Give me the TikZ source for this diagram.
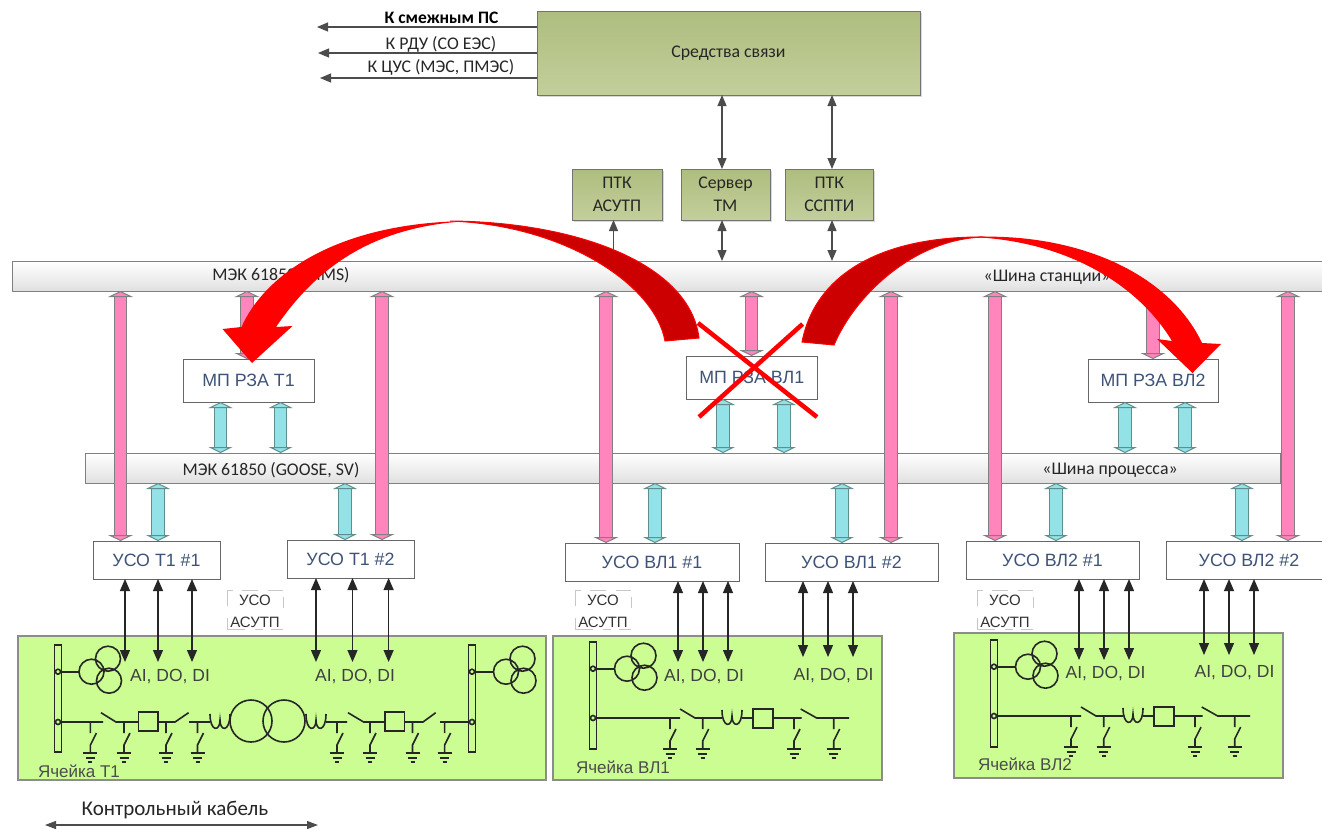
\documentclass[tikz,border=0pt]{standalone}
\usepackage{fontspec}
\setmainfont{Liberation Sans}
\newfontfamily\carl{Carlito}
\usetikzlibrary{arrows.meta,calc,shadows}
\definecolor{olivetop}{HTML}{AEBD7F}
\definecolor{olivebot}{HTML}{C3CF9B}
\definecolor{pinkc}{HTML}{FF85BC}
\definecolor{tealc}{HTML}{92E2E8}
\definecolor{tealedge}{HTML}{5F8F8C}
\definecolor{cellg}{HTML}{CBFD93}
\definecolor{bluetxt}{HTML}{3F5377}
\definecolor{darkred}{HTML}{CC0000}
\newcommand\szA{\fontsize{17.8}{20}\selectfont}
\newcommand\szB{\carl\fontsize{17.8}{20}\selectfont}
\tikzset{
  x=1pt,y=-1pt,
  olivebox/.style={draw=black!55,line width=1pt,top color=olivetop,bottom color=olivebot,inner sep=0pt,outer sep=0pt,text=black!85,align=center,font=\szB,drop shadow={shadow xshift=1.5pt,shadow yshift=-1.5pt,opacity=.3}},
  busbox/.style={draw=black!50,line width=1pt,top color=white,bottom color=black!12,inner sep=0pt,outer sep=0pt,font=\szB},
  ipbox/.style={draw=black!60,line width=1pt,fill=white,inner sep=0pt,outer sep=0pt,text=bluetxt,font=\szA},
  cellbox/.style={draw=black!45,line width=1.2pt,fill=cellg,inner sep=0pt,outer sep=0pt},
  lbl/.style={inner sep=0pt,font=\szB,text=black!85},
  siglbl/.style={inner sep=0pt,font=\fontsize{17.5}{20}\selectfont,text=black!75},
  celllbl/.style={inner sep=0pt,font=\fontsize{17}{20}\selectfont,text=black!70},
  greyarrow/.style={draw=black!70,line width=1.2pt,-{Triangle[length=11pt,width=9pt]}},
  greyboth/.style={draw=black!70,line width=1.2pt,{Triangle[length=11pt,width=9pt]}-{Triangle[length=11pt,width=9pt]}},
  blackboth/.style={draw=black!85,line width=1.2pt,{Triangle[length=12pt,width=10pt]}-{Triangle[length=12pt,width=10pt]}},
  pinkconn/.style={draw=black!50,line width=1pt,double=pinkc,double distance=11.5pt,
    {Triangle[length=6pt,width=25pt,fill=pinkc,color=black!50,line width=1pt]}-{Triangle[length=6pt,width=25pt,fill=pinkc,color=black!50,line width=1pt]}},
  tealconn/.style={draw=tealedge,line width=1pt,double=tealc,double distance=11.5pt,
    {Triangle[length=6pt,width=24pt,fill=tealc,color=tealedge,line width=1pt]}-{Triangle[length=6pt,width=24pt,fill=tealc,color=tealedge,line width=1pt]}},
  sch/.style={draw=black!85,line width=1.6pt},
  frag/.style={draw=black!22,line width=1pt},
  crossline/.style={draw=red,line width=4.5pt},
}
\newcommand\vconn[4]{\coordinate (vc) at (#2,0);\draw[#1] (vc |- #3) -- (vc |- #4);}
\newcommand\vtr[3]{\draw[sch] (#1,#3) circle[radius=12.5] (#1+16.5,#3-13) circle[radius=12.5] (#1+17.5,#3+9) circle[radius=12.5];}
\newcommand\esw[2]{\draw[sch] (#1,#2) -- ++(0,11) ++(6,0) -- ++(-6,12) -- ++(0,8);
  \draw[sch] (#1-7,#2+31) -- (#1+7,#2+31) (#1-4.5,#2+36) -- (#1+4.5,#2+36) (#1-2,#2+40) -- (#1+2,#2+40);}
\newcommand\coil[2]{\draw[sch] (#1,#2-8) .. controls (#1,#2+10) and (#1+10,#2+10) .. (#1+10,#2-2) .. controls (#1+10,#2+10) and (#1+20,#2+10) .. (#1+20,#2-8);}
\newcommand\usolabel[3]{%
  \node[siglbl,font=\fontsize{15}{18}\selectfont,text=black!80] (#3a) at (#1,#2) {УСО};
  \node[siglbl,font=\fontsize{15}{18}\selectfont,text=black!80] (#3b) at (#1,#2+22) {АСУТП};
  \draw[frag] (#1-28,#2+6) -- (#1-28,#2-10) -- (#1-22,#2-10) (#1-13,#2-10) -- (#1+3,#2-10) (#1+13,#2-10) -- (#1+28,#2-10)
   (#1+28,#2+8) -- (#1+28,#2-3) (#1-28,#2+18) -- (#1-28,#2+29) -- (#1-10,#2+29) (#1,#2+29) -- (#1+8,#2+29) (#1+16,#2+29)--(#1+28,#2+29);}
\newcommand\vlscheme{%
  \draw[sch] (589.5,642) rectangle (596.5,749);
  \draw[sch] (593,668.7) circle[radius=2.5] (593,718) circle[radius=2.5];
  \draw[sch] (595.5,668.7) -- (614.5,668.7);
  \vtr{627}{668.7}{668.7}
  \draw[sch] (595.5,718) -- (680,718) (680,709) -- (695,718) -- (722,718);
  \coil{722}{718}
  \draw[sch] (742,718) -- (753,718) (753,709) rectangle (773,728) (773,718) -- (801.7,718) (800.7,709) -- (816.7,718) -- (849,718);
  \esw{670}{718}\esw{702.7}{718}\esw{794}{718}\esw{833.7}{718}
}
\begin{document}
\begin{tikzpicture}
\useasboundingbox (0,0) rectangle (1322,831);
\fill[white] (0,0) rectangle (1322,831);

% --- buses
\node[busbox,minimum width=1320pt,minimum height=30pt] (bus1) at (672,276) {};
\node[busbox,minimum width=1195pt,minimum height=30pt] (bus2) at (682.5,468) {};
\node[lbl] (bus1a) at (281,275.5) {МЭК 61850 (MMS)};
\node[lbl] (bus1b) at (1047,277) {«Шина станции»};
\node[lbl] (bus2a) at (271,470) {МЭК 61850 (GOOSE, SV)};
\node[lbl] (bus2b) at (1110,470) {«Шина процесса»};

% --- top boxes
\node[olivebox,minimum width=383pt,minimum height=84pt] (comm) at (728.5,53) {Средства связи};
\node[olivebox,minimum width=90pt,minimum height=51pt] (ptk1) at (617,194.5) {ПТК\\[3pt]АСУТП};
\node[olivebox,minimum width=89pt,minimum height=51pt] (srv) at (725.5,194.5) {Сервер\\[3pt]ТМ};
\node[olivebox,minimum width=88.5pt,minimum height=51pt] (ptk2) at (829.3,194.5) {ПТК\\[3pt]ССПТИ};

% --- outgoing links
\coordinate (o1) at (317,27);
\coordinate (o2) at (318,53);
\coordinate (o3) at (320,78);
\draw[greyarrow] (o1 -| comm.west) -- (o1);
\draw[greyarrow] (o2 -| comm.west) -- (o2);
\draw[greyarrow] (o3 -| comm.west) -- (o3);
\node[lbl,font=\carl\bfseries\fontsize{17.5}{20}\selectfont,text=black] (t1) at (441.5,18) {К смежным ПС};
\node[lbl] (t2) at (441,44.5) {К РДУ (СО ЕЭС)};
\node[lbl] (t3) at (441,67.5) {К ЦУС (МЭС, ПМЭС)};

\vconn{greyboth}{722}{comm.south}{srv.north}
\vconn{greyboth}{832}{comm.south}{ptk2.north}
\vconn{greyarrow}{613.5}{bus1.north}{ptk1.south}
\vconn{greyboth}{722}{srv.south}{bus1.north}
\vconn{greyboth}{832}{ptk2.south}{bus1.north}

% --- protection and field devices
\node[ipbox,minimum width=131pt,minimum height=43pt] (rza1) at (248.5,380.5) {МП РЗА Т1};
\node[ipbox,minimum width=130.5pt,minimum height=43pt] (rza2) at (751.8,377.5) {МП РЗА ВЛ1};
\node[ipbox,minimum width=130pt,minimum height=43pt] (rza3) at (1153,380.5) {МП РЗА ВЛ2};
\node[ipbox,minimum width=127pt,minimum height=38pt] (u1) at (156.5,560) {УСО Т1 \#1};
\node[ipbox,minimum width=127pt,minimum height=38pt] (u2) at (350.5,559) {УСО Т1 \#2};
\node[ipbox,minimum width=174pt,minimum height=38pt] (u3) at (652,562) {УСО ВЛ1 \#1};
\node[ipbox,minimum width=173pt,minimum height=38pt] (u4) at (851.5,562) {УСО ВЛ1 \#2};
\node[ipbox,minimum width=173pt,minimum height=38pt] (u5) at (1052.5,560) {УСО ВЛ2 \#1};
\node[ipbox,minimum width=160pt,minimum height=38pt,text depth=0pt] (u6) at (1246,560) {\hspace*{6pt}УСО ВЛ2 \#2};

% --- pink station bus links
\vconn{pinkconn}{120.5}{bus1.south}{u1.north}
\vconn{pinkconn}{382}{bus1.south}{u2.north}
\vconn{pinkconn}{606}{bus1.south}{u3.north}
\vconn{pinkconn}{891}{bus1.south}{u4.north}
\vconn{pinkconn}{995}{bus1.south}{u5.north}
\vconn{pinkconn}{1288}{bus1.south}{u6.north}
\vconn{pinkconn}{247}{bus1.south}{rza1.north}
\vconn{pinkconn}{751.6}{bus1.south}{rza2.north}
\vconn{pinkconn}{1153}{bus1.south}{rza3.north}

% --- teal process bus links
\vconn{tealconn}{220.5}{rza1.south}{bus2.north}
\vconn{tealconn}{280.6}{rza1.south}{bus2.north}
\vconn{tealconn}{723}{rza2.south}{bus2.north}
\vconn{tealconn}{784}{rza2.south}{bus2.north}
\vconn{tealconn}{1125}{rza3.south}{bus2.north}
\vconn{tealconn}{1185}{rza3.south}{bus2.north}
\vconn{tealconn}{158}{bus2.south}{u1.north}
\vconn{tealconn}{345}{bus2.south}{u2.north}
\vconn{tealconn}{655}{bus2.south}{u3.north}
\vconn{tealconn}{842}{bus2.south}{u4.north}
\vconn{tealconn}{1056}{bus2.south}{u5.north}
\vconn{tealconn}{1242}{bus2.south}{u6.north}

% --- cells
\node[cellbox,minimum width=528pt,minimum height=144pt] (c1) at (282,708) {};
\node[cellbox,minimum width=329pt,minimum height=144pt] (c2) at (717.5,708) {};
\node[cellbox,minimum width=329pt,minimum height=145pt] (c3) at (1118.5,705.5) {};

% --- T1 single-line drawing
\draw[sch] (54.5,645) rectangle (61.5,752);
\draw[sch] (58,671.7) circle[radius=2.5] (58,722) circle[radius=2.5];
\draw[sch] (60.5,671.7) -- (79,671.7);
\vtr{91.5}{671.7}{671.7}
\draw[sch] (60.5,722) -- (103,722) (101,712.7) -- (116,722) -- (138.6,722);
\draw[sch] (138.6,712) rectangle (158,731);
\draw[sch] (158,722) -- (175,722) -- (188.6,712.7) (189,722) -- (210,722);
\coil{210}{722}
\draw[sch] (251,721) circle[radius=21] (284,721) circle[radius=21];
\coil{306}{722}
\draw[sch] (326,722) -- (347,722) (348,712.7) -- (363.6,722) -- (385,722);
\draw[sch] (385,712) rectangle (404.6,731);
\draw[sch] (404.6,722) -- (423,722) -- (435.7,712.7) (440,722) -- (469,722);
\draw[sch] (468.6,645) rectangle (475.6,752);
\draw[sch] (472,671.7) circle[radius=2.5] (472,722) circle[radius=2.5];
\draw[sch] (474.5,671.7) -- (493.5,671.7);
\vtr{506}{671.7}{671.7}
\esw{90.4}{722}\esw{124}{722}\esw{166}{722}\esw{197.5}{722}
\esw{337}{722}\esw{370}{722}\esw{412.5}{722}\esw{444.6}{722}

% --- VL1 and VL2 single-line drawings
\vlscheme
\begin{scope}[shift={(401,-2)}]
\vlscheme
\end{scope}

% --- signal labels
\node[siglbl] (s1) at (170,676) {AI, DO, DI};
\node[siglbl] (s2) at (355,676) {AI, DO, DI};
\node[siglbl] (s3) at (704,676) {AI, DO, DI};
\node[siglbl] (s4) at (833.5,675) {AI, DO, DI};
\node[siglbl] (s5) at (1105.5,673) {AI, DO, DI};
\node[siglbl] (s6) at (1234.5,672) {AI, DO, DI};
\node[celllbl] (n1) at (79,771) {Ячейка Т1};
\node[celllbl] (n2) at (623,767) {Ячейка ВЛ1};
\node[celllbl] (n3) at (1025,764.5) {Ячейка ВЛ2};

% --- control cable links
\newcommand\cable[4]{\coordinate (cc) at (#2,#4);\draw[blackboth] (cc |- #3.south) -- (cc);}
\cable{u1}{125}{u1}{662}\cable{u1}{158}{u1}{662}\cable{u1}{192}{u1}{662}
\cable{u2}{316}{u2}{662}\cable{u2}{352.5}{u2}{662}\cable{u2}{388.6}{u2}{662}
\cable{u3}{678}{u3}{662}\cable{u3}{703}{u3}{662}\cable{u3}{728}{u3}{662}
\cable{u4}{803}{u4}{657}\cable{u4}{828}{u4}{657}\cable{u4}{853}{u4}{657}
\cable{u5}{1079}{u5}{660}\cable{u5}{1104}{u5}{660}\cable{u5}{1129}{u5}{660}
\cable{u6}{1204}{u6}{655}\cable{u6}{1229}{u6}{655}\cable{u6}{1254}{u6}{655}

% --- USO ASUTP labels
\usolabel{255}{600}{ua}
\usolabel{603}{600}{ub}
\usolabel{1005}{600}{uc}

% --- legend
\node[lbl,font=\carl\fontsize{21}{24}\selectfont] (leg) at (175,810) {Контрольный кабель};
\coordinate (la) at (45,825);
\coordinate (lb) at (318,825);
\draw[draw=black!70,line width=1.2pt,{Triangle[length=11pt,width=8pt]}-{Triangle[length=11pt,width=8pt]}] (la) -- (lb);

% --- red curved arrows
\fill[red] (241.5,327) .. controls (262,280) and (330,222) .. (470,221)
   .. controls (370,226) and (315,270) .. (276,327) -- (292.5,326) -- (252,363) -- (222.5,329) -- cycle;
\draw[draw=red,line width=1pt,fill=darkred] (665,341) .. controls (655,285) and (565,225) .. (450,221)
   .. controls (580,222) and (690,265) .. (699,338) -- cycle;
\fill[red] (1172,341) .. controls (1135,280) and (1060,240) .. (970,237)
   .. controls (1080,232) and (1170,275) .. (1202,343) -- (1221,344) -- (1192.5,373) -- (1157,339) -- cycle;
\draw[draw=red,line width=1pt,fill=darkred] (802,342) .. controls (815,275) and (880,236) .. (985,237)
   .. controls (915,238) and (855,295) .. (834,345) -- cycle;

% --- cross over the device
\coordinate (xa) at (698,323);
\coordinate (xb) at (817,417);
\coordinate (xc) at (802.6,324);
\coordinate (xd) at (699,417);
\draw[crossline] (xa) -- (xb);
\draw[crossline] (xc) -- (xd);
\end{tikzpicture}
\end{document}
